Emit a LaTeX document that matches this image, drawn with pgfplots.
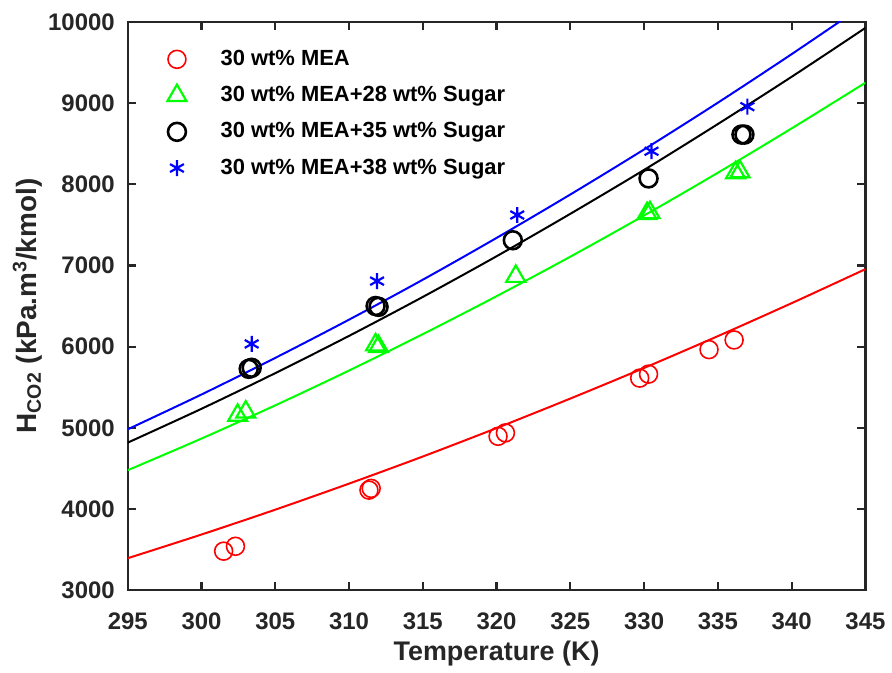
\documentclass[border=0pt]{standalone}
\usepackage{pgfplots}
\pgfplotsset{compat=1.18}
\usepackage{fontspec}
\setmainfont{Liberation Sans}
\definecolor{axgray}{RGB}{38,38,38}

\pgfplotsset{
  mk/.style={only marks,
    legend image code/.code={%
      \path[draw=none] (0cm,0cm) -- (1.0cm,0cm);
      \draw[mark repeat=2, mark phase=2, ##1, only marks] plot coordinates {(0cm,0cm) (0.3cm,0cm) (0.6cm,0cm)};}},
}

\begin{document}
\begin{tikzpicture}
\begin{axis}[
    scale only axis,
    width=370pt, height=285pt,
    xmin=295, xmax=345, ymin=3000, ymax=10000,
    xtick={295,300,...,345},
    ytick={3000,4000,...,10000},
    tick align=inside,
    major tick length=4pt,
    axis line style={axgray, line width=1.2pt},
    every tick/.style={axgray, line width=1.1pt},
    tick label style={font=\fontsize{12}{14}\selectfont\bfseries, text=axgray},
    yticklabel style={xshift=-3pt},
    xticklabel style={yshift=-8pt},
    /pgf/number format/assume math mode=true,
    /pgf/number format/1000 sep={},
    scaled y ticks=false,
    xlabel={Temperature (K)},
    ylabel={H\textsubscript{CO2} (kPa.m\textsuperscript{3}/kmol)},
    xlabel style={font=\fontsize{13.5}{15}\selectfont\bfseries, text=axgray, yshift=1.5pt},
    ylabel style={font=\fontsize{14}{16}\selectfont\bfseries, text=axgray, yshift=-4pt},
    legend cell align=left,
    legend style={draw=none, fill=none, at={(0.035,0.965)}, anchor=north west,
        font=\fontsize{11}{13}\selectfont\bfseries, row sep=5pt},
]
% experimental points
\addplot[mk, mark=o, red, mark size=4.5pt, line width=0.8pt] coordinates {
(301.5,3480) (302.3,3540) (311.35,4232) (311.5,4253) (320.1,4895) (320.6,4937)
(329.7,5612) (330.3,5661) (334.4,5963) (336.1,6082)};
\addlegendentry{30 wt\% MEA}
\addplot[mk, mark=triangle, green, mark size=5.5pt, line width=1.1pt] coordinates {
(302.45,5153) (303.0,5194) (311.8,6021) (312.0,6000) (321.3,6865)
(330.2,7638) (330.4,7650) (336.2,8142) (336.5,8154)};
\addlegendentry{30 wt\% MEA+28 wt\% Sugar}
\addplot[mk, mark=o, black, mark size=4.5pt, line width=1.3pt] coordinates {
(303.2,5726) (303.4,5739) (311.8,6500) (312.0,6490) (321.1,7310) (330.3,8072)
(336.6,8612) (336.8,8612)};
\addlegendentry{30 wt\% MEA+35 wt\% Sugar}
\addplot[mk, mark=asterisk, blue, mark size=4pt, line width=1.1pt] coordinates {
(303.4,6033) (311.9,6807) (321.4,7621) (330.5,8407) (337.0,8956)};
\addlegendentry{30 wt\% MEA+38 wt\% Sugar}
% fitted curves
\addplot[red, line width=1pt, smooth, forget plot] coordinates {
(295,3393) (300,3685) (305,3991) (310,4312) (315,4646) (320,4996)
(325,5360) (330,5737) (335,6129) (340,6535) (345,6954)};
\addplot[green, line width=1pt, smooth, forget plot] coordinates {
(295,4477) (300,4867) (305,5276) (310,5705) (315,6153) (320,6621)
(325,7108) (330,7615) (335,8142) (340,8688) (345,9251)};
\addplot[black, line width=1pt, smooth, forget plot] coordinates {
(295,4817) (300,5234) (305,5673) (310,6132) (315,6612) (320,7113)
(325,7636) (330,8177) (335,8742) (340,9324) (345,9926)};
\addplot[blue, line width=1pt, smooth, forget plot] coordinates {
(295,4981) (300,5410) (305,5861) (310,6332) (315,6824) (320,7339)
(325,7874) (330,8429) (335,9005) (340,9603) (345,10220)};
\end{axis}
% white margin above and left of the axis, as in the reference
\path (current axis.north west) -- ++(0,11pt);
\path (current axis.outer west) -- ++(-3pt,0);
\end{tikzpicture}
\end{document}
